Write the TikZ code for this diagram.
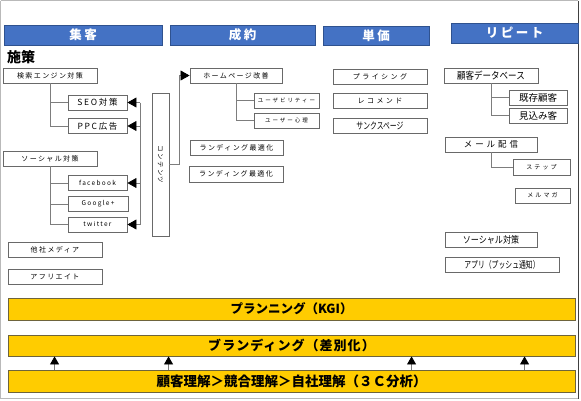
\documentclass[tikz,border=0pt]{standalone}
\usepackage{fontspec}
\setmainfont{Noto Sans CJK JP}
\newfontfamily\jpsp[LetterSpace=20]{Noto Sans CJK JP}
\newfontfamily\jpwide[LetterSpace=35]{Noto Sans CJK JP}
\newfontfamily\jpbar[LetterSpace=8]{Noto Sans CJK JP}
\newfontfamily\jpcond[FakeStretch=0.72]{Noto Sans CJK JP}
\newfontfamily\jpnarrow[FakeStretch=0.85]{Noto Sans CJK JP}
\usetikzlibrary{arrows.meta}
\definecolor{hdrblue}{RGB}{68,114,196}
\definecolor{hdrline}{RGB}{47,82,143}
\definecolor{bargold}{RGB}{255,204,0}
\definecolor{barline}{RGB}{110,100,60}
\definecolor{boxline}{RGB}{105,105,105}
\definecolor{conn}{RGB}{125,125,125}
\newcommand\jfs[1]{\fontsize{#1}{#1}\selectfont}
\begin{document}
\begin{tikzpicture}[x=1pt,y=-1pt,
  hdr/.style={draw=hdrline, fill=hdrblue, line width=0.8pt, text=white, inner sep=0pt,
              minimum height=20pt, font=\jfs{12.5}\jpsp\bfseries},
  bx/.style={draw=boxline, fill=white, line width=0.9pt, inner sep=0pt,
             minimum height=15pt, font=\jfs{7}\jpsp},
  bar/.style={draw=barline, fill=bargold, line width=0.9pt, inner sep=0pt,
              minimum width=567pt, minimum height=22pt},
  ln/.style={draw=conn, line width=0.7pt},
  arr/.style={ln, -{Triangle[length=9pt,width=10pt,color=black]}},
  uarr/.style={ln, -{Triangle[length=8pt,width=9pt,color=black]}}]
\useasboundingbox (0,0) rectangle (581,400);
\fill[white] (0,0) rectangle (581,400);
\draw[gray!55, line width=0.8pt] (0.5,0.5) -- (578,0.5);
\draw[gray!55, line width=0.8pt] (0.5,0.5) -- (0.5,398.5) -- (578,398.5);
\draw[black!75, line width=1pt] (578,0.5) -- (578,398.5);

% headers
\node[hdr, minimum width=158pt] (h1) at (83,35) {集客};
\node[hdr, minimum width=145pt] (h2) at (242.5,35) {成約};
\node[hdr, minimum width=106pt, minimum height=19pt] (h3) at (376,35.5) {単価};
\node[hdr, minimum width=127pt] (h4) at (514.5,33) {リピート};

\node[anchor=west, inner sep=0pt, font=\jfs{14}\bfseries] (shisaku) at (7,57) {施策};

% 集客 column
\node[bx, minimum width=94pt] (kensaku) at (50,75.5) {検索エンジン対策};
\node[bx, minimum width=59pt, font=\jfs{8.5}\jpsp] (seo) at (97.5,102.5) {SEO対策};
\node[bx, minimum width=59pt, font=\jfs{8.5}\jpsp] (ppc) at (97.5,126) {PPC広告};
\node[bx, minimum width=94pt] (social) at (50,158.5) {ソーシャル対策};
\node[bx, minimum width=59pt, font=\jfs{6.5}\jpsp] (fb) at (97.5,183) {facebook};
\node[bx, minimum width=60pt, font=\jfs{6.5}\jpsp] (gp) at (98,204) {Google+};
\node[bx, minimum width=59pt, font=\jfs{6.5}\jpsp] (tw) at (97.5,224.5) {twitter};
\node[bx, minimum width=94pt] (tasha) at (55,249.5) {他社メディア};
\node[bx, minimum width=94pt] (affil) at (55,277) {アフリエイト};

\draw[ln] (kensaku.south) |- (seo.west);
\draw[ln] (kensaku.south) |- (ppc.west);
\draw[ln] (social.south) |- (fb.west);
\draw[ln] (social.south) |- (gp.west);
\draw[ln] (social.south) |- (tw.west);

% コンテンツ
\node[draw=boxline, fill=white, line width=0.9pt, minimum width=17pt, minimum height=143pt, inner sep=0pt] (content) at (160.5,164.5) {};
\node[rotate=-90, inner sep=0pt, font=\jfs{6.5}\jpsp] (contenttxt) at (content.center) {コンテンツ};

\coordinate (busTop) at (140,102.5);
\coordinate (busBot) at (140,224.5);
\draw[ln] (busTop) -- (busBot);
\draw[arr] (busTop) -- (seo.east);
\draw[arr] (ppc.east -| busTop) -- (ppc.east);
\draw[arr] (fb.east -| busTop) -- (fb.east);
\draw[arr] (busBot) -- (tw.east);

% 成約 column
\node[bx, minimum width=92pt] (hp) at (236,75.5) {ホームページ改善};
\node[bx, minimum width=65pt, font=\jfs{5.5}\jpwide] (usab) at (286.5,100.5) {ユーザビリティー};
\node[bx, minimum width=65pt, font=\jfs{5.5}\jpwide] (shinri) at (286.5,120.5) {ユーザー心理};
\node[bx, minimum width=93pt] (lp1) at (236.5,147.5) {ランディング最適化};
\node[bx, minimum width=94pt, minimum height=16pt] (lp2) at (236,174) {ランディング最適化};

\draw[arr] (content.east) -- ++(10,0) |- (hp.west);
\draw[ln] (hp.south) |- (usab.west);
\draw[ln] (hp.south) |- (shinri.west);

% 単価 column
\node[bx, minimum width=94pt, font=\jfs{7}\jpwide] (pricing) at (380,76.5) {プライシング};
\node[bx, minimum width=94pt, font=\jfs{7}\jpwide] (recom) at (380,100.5) {レコメンド};
\node[bx, minimum width=94pt, font=\jfs{9.5}\jpcond] (thanks) at (380,125.5) {サンクスページ};

% リピート column
\node[bx, minimum width=94pt, font=\jfs{10}\jpnarrow] (db) at (491,75.5) {顧客データベース};
\node[bx, minimum width=58pt, font=\jfs{9.5}] (kizon) at (538,97.5) {既存顧客};
\node[bx, minimum width=58pt, font=\jfs{9.5}] (mikomi) at (538,115.5) {見込み客};
\node[bx, minimum width=92pt, font=\jfs{8.5}\jpwide] (mail) at (491,144.5) {メール配信};
\node[bx, minimum width=57pt, minimum height=16pt, font=\jfs{6}\jpwide] (step) at (541.5,167) {ステップ};
\node[bx, minimum width=55pt, font=\jfs{6}\jpwide] (merumaga) at (542.5,195.5) {メルマガ};
\node[bx, minimum width=92pt, font=\jfs{9.5}\jpnarrow] (social2) at (491,239.5) {ソーシャル対策};
\node[bx, minimum width=114pt, font=\jfs{9.5}\jpcond] (app) at (502,264.5) {アプリ（プッシュ通知）\hspace{18pt}};

\draw[ln] (db.south) |- (kizon.west);
\draw[ln] (db.south) |- (mikomi.west);
\draw[ln] (mail.south) |- (step.west);

% bottom bars
\node[bar, font=\jfs{12.5}\bfseries] (b1) at (291.5,309) {プランニング（KGI）};
\node[bar, minimum height=21pt, font=\jfs{13}\bfseries\jpbar] (b2) at (291.5,345.5) {ブランディング（差別化）};
\node[bar, font=\jfs{13.5}\bfseries] (b3) at (291.5,381) {顧客理解＞競合理解＞自社理解（３Ｃ分析）};

\draw[uarr] ([xshift=47pt]b3.north west) -- ([xshift=47pt]b2.south west);
\draw[uarr] ([xshift=161pt]b3.north west) -- ([xshift=161pt]b2.south west);
\draw[uarr] ([xshift=404pt]b3.north west) -- ([xshift=404pt]b2.south west);
\draw[uarr] ([xshift=517pt]b3.north west) -- ([xshift=517pt]b2.south west);
\end{tikzpicture}
\end{document}
